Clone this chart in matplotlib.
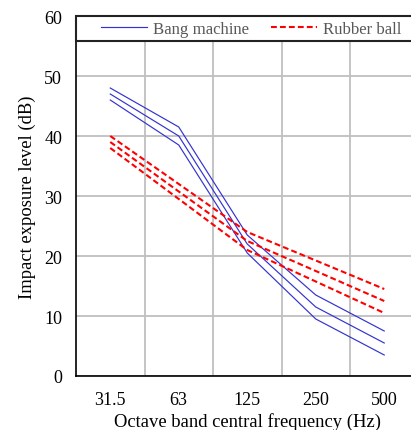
import numpy as np
import matplotlib.pyplot as plt
from matplotlib.patches import Rectangle

plt.rcParams['font.family'] = ['Liberation Serif', 'DejaVu Serif']

freqs = ['31.5', '63', '125', '250', '500']
bang_hi = [48, 41.5, 23.5, 13.5, 7.5]
bang_mid = [47, 40, 22, 11.5, 5.5]
bang_lo = [46, 38.5, 20.5, 9.5, 3.5]
ball_hi = [40, 32, 24, 19.25, 14.5]
ball_mid = [39, 30.75, 22.5, 17.5, 12.5]
ball_lo = [38, 29.5, 21, 15.75, 10.5]

fig = plt.figure(figsize=(4.11, 4.31), dpi=100)
ax = fig.add_axes([76/411, 1-377/431, 342.5/411, 360/431])

x = np.arange(len(freqs))
blue = '#3232d2'
for i, y in enumerate([bang_hi, bang_mid, bang_lo]):
    ax.plot(x, y, color=blue, lw=0.85, label='Bang machine' if i == 0 else None, zorder=3)
for i, y in enumerate([ball_hi, ball_mid, ball_lo]):
    ax.plot(x, y, color='#ff0000', lw=1.5, ls=(0, (2.8, 1.5)),
            label='Rubber ball' if i == 0 else None, zorder=3)

ax.set_xlim(-0.5, 4.5)
ax.set_ylim(0, 60)
ax.set_yticks(range(0, 61, 10))
ax.set_xticks(x)
ax.set_xticklabels(freqs)
ax.set_xticks(np.arange(0.5, 4, 1), minor=True)
ax.grid(True, which='minor', axis='x', color='#bfbfbf', lw=1.3)
ax.grid(True, which='major', axis='y', color='#bfbfbf', lw=1.3)
ax.tick_params(which='both', length=0, labelsize=13)
ax.tick_params(axis='x', pad=10.5)
ax.tick_params(axis='y', pad=10)
for s in ['top', 'right']:
    ax.spines[s].set_visible(False)
ax.spines['left'].set_linewidth(1.2)
ax.spines['bottom'].set_linewidth(1.2)

ax.set_xlabel('Octave band central frequency (Hz)', fontsize=13.4, labelpad=3.5)
ax.set_ylabel('Impact exposure level (dB)', fontsize=13.4, labelpad=6)

ax.add_patch(Rectangle((0, 0.93), 1, 0.07, transform=ax.transAxes, facecolor='white',
                       edgecolor='#222222', lw=1.5, zorder=4, clip_on=False))
leg = ax.legend(loc='center', bbox_to_anchor=(0.511, 0.965), ncol=2, frameon=False,
                fontsize=12.1, handlelength=2.75, columnspacing=1.3, handletextpad=0.35,
                borderaxespad=0)
leg.set_zorder(5)
for t in leg.get_texts():
    t.set_color('#595959')

fig.savefig('out.png', dpi=100)
